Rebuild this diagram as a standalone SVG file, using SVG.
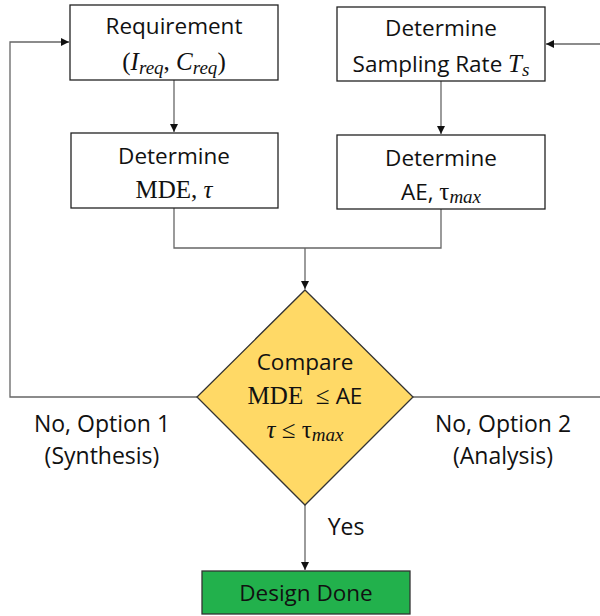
<svg xmlns="http://www.w3.org/2000/svg" width="600" height="616" viewBox="0 0 600 616">
  <style>
    .box { fill: #ffffff; stroke: #222; stroke-width: 1.3; }
    .txt { font-family: "Open Sans", "Noto Sans", sans-serif; font-size: 22.5px; fill: #111; text-anchor: middle; }
    .m { font-family: "Liberation Serif", "DejaVu Serif", serif; font-style: italic; font-size: 25px; }
    .mu { font-family: "Liberation Serif", "DejaVu Serif", serif; font-style: normal; font-size: 25px; }
    .sub { font-family: "Liberation Serif", "DejaVu Serif", serif; font-style: italic; font-size: 19px; }
    .lbl { font-family: "Open Sans", "Noto Sans", sans-serif; font-size: 23px; fill: #111; text-anchor: middle; }
    .conn { fill: none; stroke: #666; stroke-width: 1.3; }
  </style>
  <defs>
    <marker id="arrow" viewBox="0 0 10 10" refX="10" refY="5" markerWidth="8" markerHeight="8" markerUnits="userSpaceOnUse" orient="auto">
      <path d="M0,0 L10,5 L0,10 z" fill="#111"/>
    </marker>
  </defs>

  <g id="connectors">
    <!-- requirement to MDE -->
    <path class="conn" d="M174,80 V132" marker-end="url(#arrow)"/>
    <!-- sampling rate to AE -->
    <path class="conn" d="M441,81 V134" marker-end="url(#arrow)"/>
    <!-- merge into comparison -->
    <path class="conn" d="M174,208 V248 H441 V209"/>
    <path class="conn" d="M305,248 V289" marker-end="url(#arrow)"/>
    <!-- option 1 loop back -->
    <path class="conn" d="M197,397 H10 V42 H69" marker-end="url(#arrow)"/>
    <!-- option 2 loop back, running past the right edge -->
    <path class="conn" d="M413,397 H600"/>
    <path class="conn" d="M600,44 H546" marker-end="url(#arrow)"/>
    <!-- yes branch -->
    <path class="conn" d="M305,505 V570" marker-end="url(#arrow)"/>
  </g>

  <g id="requirement">
    <rect class="box" x="70" y="5" width="208" height="75"/>
    <text class="txt" x="174" y="34">Requirement</text>
    <text class="txt" x="174" y="70"><tspan class="mu">(</tspan><tspan class="m">I</tspan><tspan class="sub" dy="4">req</tspan><tspan class="mu" dy="-4">, </tspan><tspan class="m">C</tspan><tspan class="sub" dy="4">req</tspan><tspan class="mu" dy="-4">)</tspan></text>
  </g>

  <g id="sampling-rate">
    <rect class="box" x="337" y="7" width="208" height="74"/>
    <text class="txt" x="441" y="36">Determine</text>
    <text class="txt" x="441" y="72">Sampling Rate <tspan class="m">T</tspan><tspan class="sub" dy="4">s</tspan></text>
  </g>

  <g id="determine-mde">
    <rect class="box" x="71" y="133" width="207" height="75"/>
    <text class="txt" x="174" y="164">Determine</text>
    <text class="txt" x="174" y="198"><tspan class="mu">MDE, </tspan><tspan class="m">τ</tspan></text>
  </g>

  <g id="determine-ae">
    <rect class="box" x="337" y="135" width="208" height="74"/>
    <text class="txt" x="441" y="166">Determine</text>
    <text class="txt" x="441" y="200">AE, <tspan class="mu">τ</tspan><tspan class="sub" dy="3">max</tspan></text>
  </g>

  <g id="compare">
    <polygon points="305,290 413,397 305,505 197,397" fill="#ffd966" stroke="#333" stroke-width="1.3"/>
    <text class="txt" x="305" y="370">Compare</text>
    <text class="txt" x="305" y="404"><tspan class="mu" xml:space="preserve">MDE  ≤ </tspan>AE</text>
    <text class="txt" x="305" y="438"><tspan class="m">τ</tspan><tspan class="mu"> ≤ τ</tspan><tspan class="sub" dy="3">max</tspan></text>
  </g>

  <g id="design-done">
    <rect x="202" y="571" width="208" height="43" fill="#22b14c" stroke="#333" stroke-width="1.3"/>
    <text class="txt" x="306" y="601">Design Done</text>
  </g>

  <g id="labels">
    <text class="lbl" x="102" y="432">No, Option 1</text>
    <text class="lbl" x="102" y="464">(Synthesis)</text>
    <text class="lbl" x="503" y="432">No, Option 2</text>
    <text class="lbl" x="503" y="464">(Analysis)</text>
    <text class="lbl" x="346" y="535">Yes</text>
  </g>
</svg>
